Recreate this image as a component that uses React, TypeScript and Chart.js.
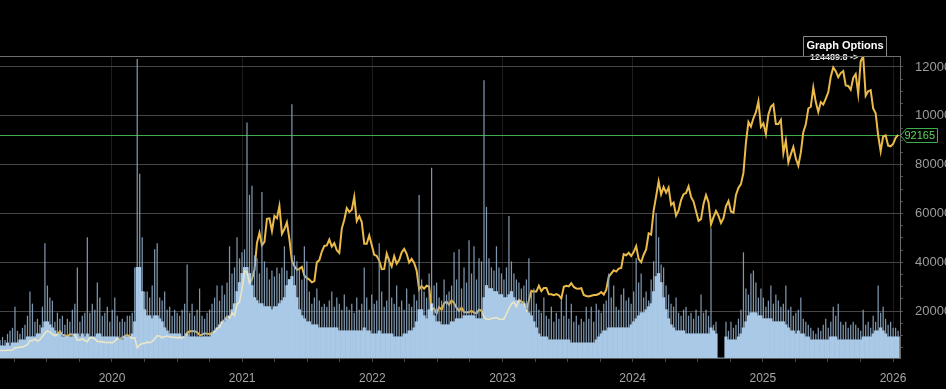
import React, { useEffect, useRef } from 'react';
import { Chart, registerables } from 'chart.js';

Chart.register(...registerables);

// Weekly samples starting Thu 21 Feb 2019
const START_YEAR = 2019 + 51 / 365;
const WEEK = 7 / 365.25;
const X_MIN = 2019.1396;
const X_MAX = 2026.0536;

const YEAR_TICKS = [2020, 2021, 2022, 2023, 2024, 2025, 2026];
const PRICE_TICKS = [20000, 40000, 60000, 80000, 100000, 120000];
const LAST_PRICE = 92165;
const ATH = 124489.8;

// weekly price
const PRICE_2019 = [3900, 3850, 3900, 3950, 4000, 4050, 4950, 5050, 5300, 5250, 5700, 6300, 7900, 7900, 8600, 7700, 8300, 9600, 11000, 11900, 11400, 10600, 9900, 10400, 11800, 10300, 10100, 9600, 10500, 10400, 10200, 8100, 8200, 8600, 8000, 7500, 9150, 9200, 8600, 7600, 7500, 7400, 7200, 7150, 7200];
const PRICE_2020 = [6950, 7800, 8700, 8400, 9300, 9800, 10300, 9600, 8800, 9050, 4950, 6200, 6700, 6800, 7300, 7100, 7500, 8650, 9900, 9800, 9100, 9550, 9800, 9400, 9400, 9250, 9100, 9250, 9150, 9600, 11100, 11750, 11800, 11800, 11300, 10200, 10350, 10950, 10750, 10600, 11050, 11500, 12950, 13450, 15600, 16300, 17800, 17150, 19200, 18250, 22800, 23700, 29000];
const PRICE_2021 = [36500, 36000, 31500, 33000, 36900, 47900, 52100, 47000, 48400, 57800, 58000, 52800, 59000, 58000, 63100, 51700, 53600, 56400, 49500, 40600, 38500, 36900, 37300, 38100, 34600, 33500, 32900, 31800, 32300, 40000, 40900, 44400, 46700, 46900, 49300, 46400, 47800, 44900, 43800, 53800, 57400, 62200, 60600, 61500, 66800, 56900, 58900, 56500, 47600, 47600, 51000, 47100];
const PRICE_2022 = [43100, 42600, 40700, 37200, 37300, 43600, 40600, 38300, 42500, 39400, 40900, 44000, 45500, 43500, 39900, 41400, 39700, 36600, 28900, 30300, 29200, 30400, 30100, 20400, 21200, 19000, 21600, 20600, 23200, 23900, 22600, 24400, 23300, 21400, 20100, 21400, 19700, 19400, 19600, 20100, 19400, 19000, 20600, 20200, 17600, 16700, 16600, 17000, 17200, 17400, 16800, 16600];
const PRICE_2023 = [16800, 18900, 21100, 23000, 23700, 21800, 24600, 23900, 23500, 20300, 24400, 28300, 28000, 28000, 30400, 28200, 29500, 29500, 26900, 26900, 26500, 27000, 26500, 25100, 30000, 30400, 30100, 31400, 29900, 29300, 29200, 29400, 26600, 26200, 26000, 26300, 26600, 26600, 27000, 27800, 26800, 28700, 34100, 35400, 36700, 36200, 37400, 37700, 43300, 42900, 43900, 42600];
const PRICE_2024 = [44200, 46600, 41300, 40000, 43100, 45300, 51900, 51300, 61200, 67000, 73100, 67800, 70800, 68500, 70600, 63500, 64500, 59100, 61200, 65500, 67900, 68400, 71100, 66800, 64900, 60900, 57000, 57700, 63900, 67500, 64600, 55500, 58500, 61000, 59000, 56100, 58100, 62900, 65100, 60800, 60300, 67600, 70500, 72000, 76600, 89000, 97500, 95600, 99000, 101500, 106000, 95500];
const PRICE_2025 = [96900, 92500, 100500, 103700, 104700, 96600, 96600, 98300, 84700, 89900, 80900, 84200, 87200, 82500, 79600, 84900, 93300, 96500, 103000, 103700, 111600, 105600, 101600, 105600, 104600, 107000, 109600, 116000, 119800, 118300, 115800, 117500, 118300, 112400, 112200, 110700, 115500, 117100, 109000, 122300, 124489.8, 108200, 110000, 110500, 103000, 101000, 92000, 85500, 91500, 92000, 87800, 87500];
const PRICE_2026 = [88500, 91000, 92165];

// weekly volume: typical level (solid mass) and weekly spike height, 0..100 of panel
const VOL_BASE = [
  4, 4, 4, 5, 4, 5, 5, 5, 6, 6,
  6, 7, 7, 7, 7, 8, 8, 10, 12, 12,
  11, 10, 9, 8, 8, 7, 7, 7, 7, 7,
  8, 8, 7, 8, 7, 8, 7, 7, 7, 8,
  8, 7, 7, 7, 7, 7, 7, 7, 6, 6,
  7, 7, 7, 8, 12, 30, 30, 22, 16, 14,
  14, 13, 14, 14, 13, 12, 10, 9, 8, 8,
  8, 8, 8, 7, 7, 8, 7, 7, 7, 7,
  7, 7, 7, 7, 7, 8, 9, 10, 11, 12,
  12, 13, 14, 16, 18, 22, 25, 28, 30, 30,
  28, 24, 20, 19, 18, 18, 17, 17, 17, 16,
  17, 17, 18, 19, 20, 24, 26, 27, 24, 20,
  16, 14, 13, 12, 12, 11, 11, 11, 10, 10,
  10, 10, 10, 10, 10, 10, 9, 9, 9, 9,
  9, 9, 9, 9, 9, 9, 10, 9, 9, 8,
  8, 8, 9, 8, 8, 8, 8, 8, 7, 7,
  7, 7, 8, 8, 9, 9, 10, 12, 16, 16,
  14, 13, 16, 18, 14, 12, 12, 11, 11, 11,
  11, 12, 12, 13, 13, 13, 14, 14, 14, 14,
  14, 13, 13, 13, 20, 24, 23, 23, 22, 22,
  21, 21, 20, 20, 21, 22, 20, 19, 19, 18,
  18, 16, 15, 14, 12, 10, 8, 7, 7, 7,
  6, 6, 6, 6, 6, 6, 6, 6, 6, 5,
  5, 5, 5, 5, 5, 5, 5, 5, 5, 6,
  7, 8, 9, 9, 10, 10, 10, 10, 10, 10,
  10, 10, 10, 11, 12, 13, 14, 15, 15, 16,
  17, 18, 22, 27, 28, 25, 20, 16, 13, 11,
  10, 9, 9, 9, 9, 8, 8, 8, 8, 8,
  8, 8, 8, 8, 8, 10, 9, 8, 0, 0,
  0, 7, 6, 6, 6, 6, 7, 8, 10, 12,
  14, 15, 15, 15, 14, 14, 13, 13, 13, 13,
  12, 12, 12, 12, 12, 11, 10, 9, 9, 8,
  9, 8, 8, 7, 7, 6, 6, 6, 6, 6,
  6, 6, 6, 7, 7, 7, 6, 6, 6, 6,
  6, 6, 6, 6, 6, 6, 7, 7, 7, 7,
  8, 9, 9, 10, 9, 8, 7, 7, 7, 7,
  7,
];
const VOL_PEAK = [
  6, 7, 6, 8, 9, 10, 17, 9, 8, 10,
  11, 14, 22, 18, 12, 13, 11, 17, 38, 24,
  20, 19, 12, 15, 13, 14, 11, 13, 12, 16,
  18, 30, 12, 14, 15, 40, 15, 18, 16, 25,
  20, 14, 15, 17, 12, 16, 20, 14, 12, 13,
  12, 14, 14, 15, 30, 99, 61, 40, 22, 22,
  20, 24, 36, 38, 20, 19, 22, 16, 17, 14,
  16, 15, 14, 16, 18, 31, 15, 18, 14, 16,
  23, 14, 13, 15, 16, 18, 20, 24, 19, 24,
  21, 25, 37, 28, 30, 40, 33, 35, 36, 78,
  54, 57, 34, 33, 28, 55, 32, 30, 26, 29,
  27, 30, 28, 30, 37, 29, 23, 84, 34, 32,
  30, 26, 37, 32, 22, 18, 20, 23, 19, 17,
  18, 17, 19, 22, 17, 20, 18, 16, 21, 17,
  16, 18, 15, 20, 16, 18, 30, 20, 16, 21,
  18, 19, 38, 22, 17, 19, 33, 20, 18, 24,
  17, 19, 16, 23, 18, 17, 21, 19, 54, 26,
  22, 20, 28, 63, 24, 25, 20, 19, 26, 21,
  22, 24, 35, 26, 36, 23, 30, 25, 39, 28,
  37, 26, 33, 32, 92, 50, 33, 30, 29, 37,
  30, 28, 26, 30, 47, 32, 28, 26, 25, 23,
  24, 26, 33, 22, 23, 18, 16, 15, 20, 14,
  13, 17, 12, 15, 13, 19, 14, 21, 13, 18,
  12, 14, 11, 13, 12, 17, 13, 17, 12, 18,
  16, 15, 18, 19, 28, 20, 24, 17, 16, 21,
  23, 19, 20, 18, 22, 33, 25, 28, 20, 22,
  19, 26, 32, 48, 40, 31, 30, 24, 21, 18,
  17, 20, 15, 14, 16, 17, 14, 15, 13, 16,
  14, 21, 15, 16, 14, 43, 11, 12, 0, 0,
  0, 12, 9, 12, 10, 11, 13, 16, 35, 23,
  21, 28, 29, 25, 20, 23, 20, 17, 19, 24,
  18, 21, 19, 17, 18, 24, 16, 17, 14, 15,
  16, 20, 13, 12, 11, 10, 9, 8, 10, 9,
  11, 13, 10, 12, 17, 14, 18, 12, 11, 12,
  10, 11, 12, 11, 10, 9, 16, 11, 12, 10,
  14, 12, 24, 15, 17, 13, 11, 12, 10, 10,
  9,
];

const PRICE = [...PRICE_2019, ...PRICE_2020, ...PRICE_2021, ...PRICE_2022, ...PRICE_2023, ...PRICE_2024, ...PRICE_2025, ...PRICE_2026];

const FONT = "'Liberation Sans', Arial, sans-serif";

const isYear = (v: number) => Math.abs(v - Math.round(v)) < 1e-6;

export default function App() {
  const ref = useRef<HTMLCanvasElement | null>(null);

  useEffect(() => {
    if (!ref.current) return;
    const xOf = (i: number) => START_YEAR + i * WEEK;
    const priceData = PRICE.map((v, i) => ({ x: xOf(i), y: v }));
    const baseData = VOL_BASE.map((v, i) => ({ x: xOf(i), y: v }));
    const peakData = VOL_PEAK.map((v, i) => ({ x: xOf(i), y: v }));

    const overlay = {
      id: 'overlay',
      beforeDatasetsDraw(chart: any) {
        const { ctx, chartArea: a, scales } = chart;
        const y = Math.round(scales.y.getPixelForValue(LAST_PRICE)) + 0.5;
        ctx.save();
        ctx.strokeStyle = '#3fae4a';
        ctx.lineWidth = 1;
        ctx.beginPath();
        ctx.moveTo(a.left, y);
        ctx.lineTo(a.right, y);
        ctx.stroke();
        ctx.restore();
      },
      afterDatasetsDraw(chart: any) {
        const { ctx, chartArea: a } = chart;
        const bars = chart.getDatasetMeta(2).data;
        const pts = chart.getDatasetMeta(0).data;
        ctx.save();
        ctx.beginPath();
        for (const el of bars) {
          const h = el.base - el.y;
          if (h > 0) ctx.rect(el.x - el.width / 2, el.y, el.width, h);
        }
        ctx.clip();
        ctx.beginPath();
        ctx.rect(a.left, a.top, a.right - a.left, a.bottom - a.top);
        ctx.clip();
        ctx.beginPath();
        pts.forEach((p: any, i: number) => (i ? ctx.lineTo(p.x, p.y) : ctx.moveTo(p.x, p.y)));
        ctx.strokeStyle = 'rgba(238,232,196,0.95)';
        ctx.lineWidth = 1.6;
        ctx.stroke();
        ctx.restore();
      },
      afterDraw(chart: any) {
        const { ctx, chartArea: a, scales } = chart;
        ctx.save();
        // ATH marker text
        const peakX = scales.x.getPixelForValue(xOf(PRICE.indexOf(ATH)));
        ctx.font = `bold 9px ${FONT}`;
        ctx.fillStyle = '#e6e6e6';
        ctx.textAlign = 'right';
        ctx.textBaseline = 'middle';
        ctx.fillText(`${ATH.toFixed(1)} ->`, peakX - 5, a.top + 1.5);
        // top border
        ctx.strokeStyle = '#6e6e6e';
        ctx.lineWidth = 1;
        ctx.beginPath();
        ctx.moveTo(a.left, a.top + 0.5);
        ctx.lineTo(a.right, a.top + 0.5);
        ctx.stroke();
        // Graph Options button
        ctx.fillStyle = '#000';
        ctx.fillRect(803, 37, 84, 17);
        ctx.strokeStyle = '#8a8a8a';
        ctx.beginPath();
        ctx.moveTo(803.5, 56);
        ctx.lineTo(803.5, 36.5);
        ctx.lineTo(886.5, 36.5);
        ctx.lineTo(886.5, 56);
        ctx.stroke();
        ctx.font = `bold 11px ${FONT}`;
        ctx.fillStyle = '#ffffff';
        ctx.textAlign = 'center';
        ctx.fillText('Graph Options', 845, 45.5);
        // last price tag
        const y = Math.round(scales.y.getPixelForValue(LAST_PRICE)) + 0.5;
        const x0 = a.right + 0.5;
        ctx.beginPath();
        ctx.moveTo(x0, y);
        ctx.lineTo(x0 + 6, y - 7);
        ctx.lineTo(937.5, y - 7);
        ctx.lineTo(937.5, y + 7);
        ctx.lineTo(x0 + 6, y + 7);
        ctx.closePath();
        ctx.fillStyle = '#000';
        ctx.fill();
        ctx.strokeStyle = '#3fae4a';
        ctx.stroke();
        ctx.font = `11px ${FONT}`;
        ctx.fillStyle = '#5ed65e';
        ctx.textAlign = 'left';
        ctx.fillText(String(LAST_PRICE), x0 + 4, y + 0.5);
        ctx.restore();
      },
    };

    const xTicks: number[] = [];
    for (let yr = 2019; yr <= 2026; yr++) {
      for (let q = 0; q < 4; q++) {
        const v = yr + q * 0.25;
        if (v > X_MIN && v < X_MAX) xTicks.push(v);
      }
    }
    const yTicks: number[] = [];
    for (let v = 5000; v <= 120000; v += 5000) yTicks.push(v);

    const chart = new Chart(ref.current, {
      type: 'bar',
      data: {
        datasets: [
          {
            type: 'line',
            label: 'Price',
            data: priceData,
            xAxisID: 'x',
            yAxisID: 'y',
            borderColor: '#ebbb4a',
            borderWidth: 2,
            pointRadius: 0,
            tension: 0,
            order: 3,
          } as any,
          {
            type: 'bar',
            label: 'Volume peak',
            data: peakData,
            xAxisID: 'x',
            yAxisID: 'yVol',
            backgroundColor: 'rgba(140,166,192,0.9)',
            barPercentage: 0.5,
            categoryPercentage: 1,
            grouped: false,
            order: 2,
          } as any,
          {
            type: 'bar',
            label: 'Volume',
            data: baseData,
            xAxisID: 'x',
            yAxisID: 'yVol',
            backgroundColor: '#a9c9e7',
            barPercentage: 1,
            categoryPercentage: 1,
            grouped: false,
            order: 1,
          } as any,
        ],
      },
      options: {
        responsive: false,
        maintainAspectRatio: false,
        animation: false,
        devicePixelRatio: 1,
        layout: { padding: { top: 56, left: 0, right: 0, bottom: 0 } },
        plugins: { legend: { display: false }, tooltip: { enabled: false } },
        scales: {
          x: {
            type: 'linear',
            position: 'bottom',
            offset: false,
            min: X_MIN,
            max: X_MAX,
            afterBuildTicks: (axis: any) => {
              axis.ticks = xTicks.map((v) => ({ value: v }));
            },
            afterFit: (axis: any) => {
              axis.height = 31;
              axis.paddingLeft = 0;
              axis.paddingRight = 0;
            },
            grid: {
              offset: false,
              color: (c: any) => (c.tick && isYear(c.tick.value) ? '#1d1d1d' : 'rgba(0,0,0,0)'),
              tickColor: '#4a4a4a',
              tickLength: 4,
              drawTicks: true,
            },
            border: { display: true, color: '#5f5f5f' },
            ticks: {
              autoSkip: false,
              maxRotation: 0,
              padding: 9,
              color: '#a6a6a6',
              font: { size: 12, family: FONT },
              callback: (v: any) => (isYear(Number(v)) ? String(Math.round(Number(v))) : ''),
            },
          },
          y: {
            type: 'linear',
            position: 'right',
            min: 800,
            max: 124490,
            afterBuildTicks: (axis: any) => {
              axis.ticks = yTicks.map((v) => ({ value: v }));
            },
            afterFit: (axis: any) => {
              axis.width = 46;
            },
            grid: {
              color: (c: any) => (c.tick && c.tick.value % 20000 === 0 ? '#454545' : 'rgba(0,0,0,0)'),
              tickColor: '#4f4f4f',
              tickLength: 3,
              drawTicks: true,
            },
            border: { display: true, color: '#6a6a6a' },
            ticks: {
              autoSkip: false,
              padding: 12,
              color: '#9c9c9c',
              font: { size: 13, family: FONT },
              callback: (v: any) => (Number(v) % 20000 === 0 ? String(v) : ''),
            },
          },
          yVol: {
            type: 'linear',
            display: false,
            min: 0,
            max: 100,
          },
        },
      } as any,
      plugins: [overlay],
    });
    return () => chart.destroy();
  }, []);

  return (
    <div style={{ position: 'absolute', left: 0, top: 0, width: 946, height: 389, background: '#000', overflow: 'hidden' }}>
      <canvas ref={ref} width={946} height={389} style={{ display: 'block' }} />
    </div>
  );
}
